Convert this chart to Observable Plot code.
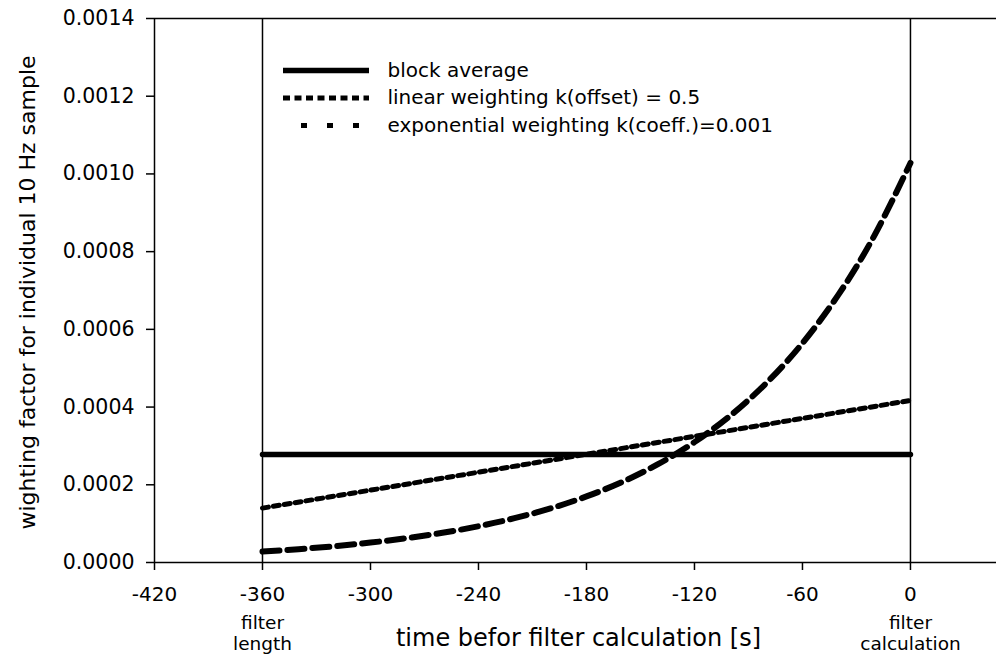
<!DOCTYPE html>
<html>
<head>
<meta charset="utf-8">
<script src="https://cdn.jsdelivr.net/npm/d3@7"></script>
<script src="https://cdn.jsdelivr.net/npm/@observablehq/plot@0.6"></script>
<style>
  html, body { margin: 0; padding: 0; background: #fff; }
</style>
</head>
<body>
<div id="chart"></div>
<script>
// ---- data ----
const xTicks = [-420, -360, -300, -240, -180, -120, -60, 0];
const yTicks = [0, 0.0002, 0.0004, 0.0006, 0.0008, 0.0010, 0.0012, 0.0014];

const blockT = [-360, 0];
const blockW = [0.000278, 0.000278];

const linearT = [-360, 0];
const linearW = [0.000140, 0.000417];

const expT = [-360, -340, -320, -300, -280, -260, -240, -220, -200, -180,
              -160, -140, -120, -100, -80, -60, -40, -20, 0];
const expW = [0.0000281, 0.0000343, 0.0000419, 0.0000512, 0.0000625, 0.0000764,
              0.0000933, 0.0001140, 0.0001392, 0.0001700, 0.0002076, 0.0002536,
              0.0003098, 0.0003783, 0.0004621, 0.0005644, 0.0006894, 0.0008420,
              0.0010284];

const markerT = [-360, 0];
const markerLabels = ["filter\nlength", "filter\ncalculation"];

const legendLabels = ["block average", "linear weighting k(offset) = 0.5",
                      "exponential weighting k(coeff.)=0.001"];

const xLabel = "time befor filter calculation [s]";
const yLabel = "wighting factor for individual 10 Hz sample";

// ---- layout ----
const W = 996, H = 657;
const mL = 154, mT = 18, mB = 95, mR = 0;
const xDomain = [-420, 47.8];
const yDomain = [0, 0.0014];
const pxPerX = (W - mL - mR) / (xDomain[1] - xDomain[0]);
const pxPerY = (H - mT - mB) / (yDomain[1] - yDomain[0]);
const px2x = p => xDomain[0] + (p - mL) / pxPerX;
const py2y = p => yDomain[0] + (H - mB - p) / pxPerY;

const toRows = (T, V) => T.map((t, i) => ({t, w: V[i]}));
const block = toRows(blockT, blockW);
const linear = toRows(linearT, linearW);
const expo = toRows(expT, expW);

// legend rows (pixel layout converted to data space)
const legX1 = px2x(283), legX2 = px2x(369), legTX = px2x(387);
const legRowsPx = [70, 97.5, 125];
const legendStyles = [
  {dash: null, width: 5.5, offset: 0},
  {dash: "7,4.5", width: 5, offset: 0},
  {dash: "6,20", width: 5, offset: 8}
];
const legendRows = legendLabels.map((label, i) => ({
  label, y: py2y(legRowsPx[i]), ...legendStyles[i]
}));

const markers = markerT.map((t, i) => ({t, label: markerLabels[i]}));

const chart = Plot.plot({
  width: W,
  height: H,
  marginLeft: mL,
  marginTop: mT,
  marginBottom: mB,
  marginRight: mR,
  style: {fontFamily: "'DejaVu Sans', sans-serif", fontSize: "20px", background: "#fff", color: "#000"},
  x: {domain: xDomain},
  y: {domain: yDomain},
  marks: [
    // frame lines
    Plot.ruleY([yDomain[1]], {stroke: "#000", strokeWidth: 1.5}),
    Plot.ruleY([0], {stroke: "#000", strokeWidth: 1.5}),
    Plot.ruleX([xDomain[0]], {stroke: "#000", strokeWidth: 1.5}),
    Plot.ruleX(markerT, {stroke: "#000", strokeWidth: 1.5}),
    // axes
    Plot.axisX({ticks: xTicks, tickFormat: d => String(d), tickSize: 8, tickPadding: 16, strokeWidth: 1.5, label: null, fontSize: 20}),
    Plot.axisY({ticks: yTicks, tickFormat: d => d.toFixed(4), tickSize: 8, tickPadding: 12, strokeWidth: 1.5, label: null, fontSize: 20.5}),
    // data
    Plot.line(block, {x: "t", y: "w", stroke: "#000", strokeWidth: 5.5}),
    Plot.line(linear, {x: "t", y: "w", stroke: "#000", strokeWidth: 5, strokeDasharray: "6,5"}),
    Plot.line(expo, {x: "t", y: "w", stroke: "#000", strokeWidth: 6, strokeDasharray: "17,8", curve: "natural"}),
    // legend
    ...legendRows.map(r => Plot.ruleY([r], {
      x1: legX1, x2: legX2, y: "y", stroke: "#000", strokeWidth: r.width,
      strokeDasharray: r.dash ?? undefined, strokeDashoffset: r.offset
    })),
    Plot.text(legendRows, {x: legTX, y: "y", text: "label", textAnchor: "start", fontSize: 20, fill: "#000"}),
    // marker sub-labels
    Plot.text(markers, {x: "t", y: 0, text: "label", dy: 70, lineHeight: 1.17, fontSize: 18.5, fill: "#000", textAnchor: "middle"}),
    // axis titles
    Plot.text([xLabel], {text: d => d, frameAnchor: "bottom", dy: 76, dx: 3, fontSize: 24, lineAnchor: "middle", textAnchor: "middle", fill: "#000"}),
    Plot.text([yLabel], {text: d => d, frameAnchor: "left", rotate: -90, dx: -127, dy: 2, fontSize: 22, lineAnchor: "middle", textAnchor: "middle", fill: "#000"})
  ]
});

document.getElementById("chart").appendChild(chart);
</script>
</body>
</html>
